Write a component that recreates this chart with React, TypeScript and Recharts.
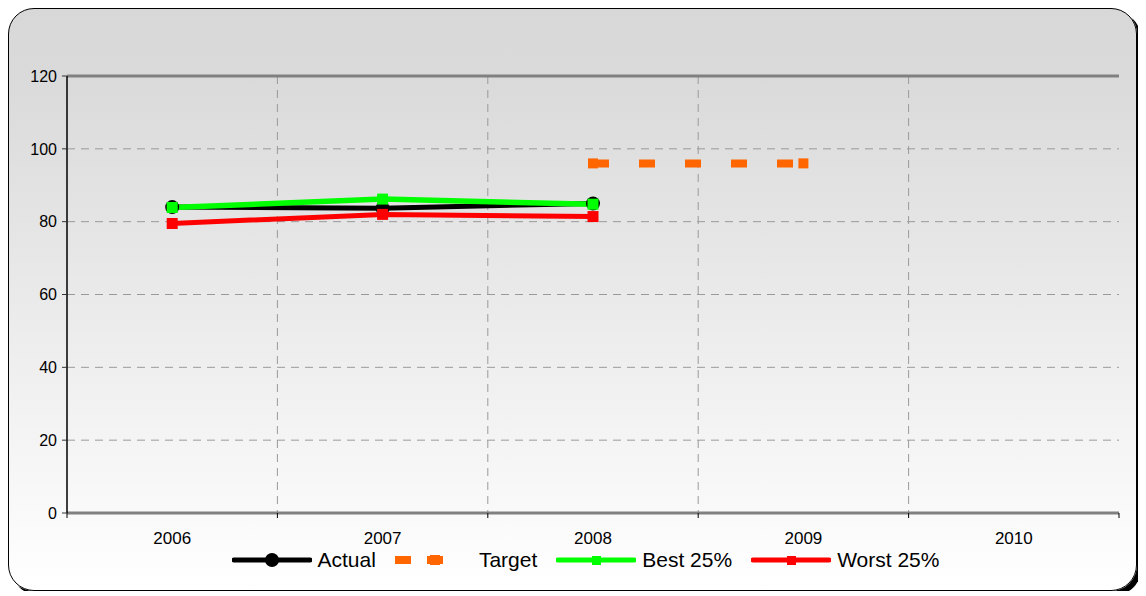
import React from "react";
import {
  LineChart,
  Line,
  XAxis,
  YAxis,
  CartesianGrid,
  Legend,
  ReferenceLine,
} from "recharts";

const years = ["2006", "2007", "2008", "2009", "2010"];
const actual = [84, 83.7, 85, null, null];
const target = [null, null, 96, 96, null];
const best25 = [83.9, 86.2, 84.8, null, null];
const worst25 = [79.5, 82, 81.4, null, null];
const yTicks = [0, 20, 40, 60, 80, 100, 120];

const data = years.map((year, i) => ({
  year,
  actual: actual[i],
  target: target[i],
  best: best25[i],
  worst: worst25[i],
}));

const FONT = "'Liberation Sans', Arial, sans-serif";
const W = 1127;
const H = 581;
const MARGIN = { top: 67, right: 17, left: 18, bottom: 17 };
const Y_AXIS_W = 40;
const PLOT_W = W - MARGIN.left - MARGIN.right - Y_AXIS_W;
const BAND = PLOT_W / years.length;

const squareDot = (fill: string, size: number) => (props: any) => {
  const { cx, cy, index, value } = props;
  if (cx == null || cy == null || value == null) return <g key={index} />;
  return (
    <rect key={index} x={cx - size / 2} y={cy - size / 2} width={size} height={size} fill={fill} />
  );
};

const circleDot = (props: any) => {
  const { cx, cy, index, value } = props;
  if (cx == null || cy == null || value == null) return <g key={index} />;
  return <circle key={index} cx={cx} cy={cy} r={7} fill="#000" />;
};

// year label plus tick marks on the category boundaries (Excel style)
const YearTick = (props: any) => {
  const { x, y, payload, index } = props;
  const last = index === years.length - 1;
  return (
    <g>
      <line x1={x - BAND / 2} y1={y} x2={x - BAND / 2} y2={y + 5} stroke="#000" />
      {last && <line x1={x + BAND / 2} y1={y} x2={x + BAND / 2} y2={y + 5} stroke="#000" />}
      <text x={x} y={y + 31} textAnchor="middle" fill="#000" fontSize={17} fontFamily={FONT}>
        {payload.value}
      </text>
    </g>
  );
};

const legendItems = [
  { name: "Actual", color: "#000000", kind: "circle" },
  { name: "Target", color: "#ff6600", kind: "dash" },
  { name: "Best 25%", color: "#00ff00", kind: "square" },
  { name: "Worst 25%", color: "#ff0000", kind: "square" },
];

function LegendIcon({ kind, color }: { kind: string; color: string }) {
  if (kind === "dash") {
    return (
      <svg width={62} height={20} style={{ marginRight: 22 }}>
        <line x1={0} y1={10} x2={62} y2={10} stroke={color} strokeWidth={8} strokeDasharray="16 16" />
        <rect x={35} y={5} width={10} height={10} fill={color} />
      </svg>
    );
  }
  return (
    <svg width={80} height={20} style={{ marginRight: 6 }}>
      <line x1={2} y1={10} x2={78} y2={10} stroke={color} strokeWidth={5} strokeLinecap="round" />
      {kind === "circle" ? (
        <circle cx={40} cy={10} r={7} fill={color} />
      ) : (
        <rect x={36} y={6} width={9} height={9} fill={color} />
      )}
    </svg>
  );
}

function renderLegend() {
  return (
    <div
      style={{
        display: "flex",
        justifyContent: "center",
        alignItems: "center",
        height: 30,
        paddingTop: 2,
        paddingLeft: 44,
        fontFamily: FONT,
        fontSize: 21,
        color: "#000",
      }}
    >
      {legendItems.map((item) => (
        <div key={item.name} style={{ display: "flex", alignItems: "center", marginRight: 19 }}>
          <LegendIcon kind={item.kind} color={item.color} />
          <span>{item.name}</span>
        </div>
      ))}
    </div>
  );
}

export default function App() {
  return (
    <div
      style={{
        position: "relative",
        width: 1129,
        height: 583,
        boxSizing: "border-box",
        border: "1.5px solid #000",
        borderRadius: 26,
        boxShadow: "4px 4px 0 #000",
        background: "linear-gradient(to bottom, #d8d8d8 0%, #dadada 12%, #ffffff 100%)",
        overflow: "hidden",
      }}
    >
      <LineChart width={W} height={H} data={data} margin={MARGIN} style={{ fontFamily: FONT }}>
        <CartesianGrid
          yAxisId="left"
          stroke="#9a9a9a"
          strokeDasharray="8 6"
          verticalCoordinatesGenerator={({ offset }: any) =>
            years.slice(1).map((_, i) => offset.left + (offset.width * (i + 1)) / years.length)
          }
        />
        <XAxis
          dataKey="year"
          scale="band"
          axisLine={{ stroke: "#808080", strokeWidth: 3 }}
          tickLine={false}
          tickSize={0}
          tickMargin={0}
          height={30}
          interval={0}
          tick={<YearTick />}
        />
        <YAxis
          yAxisId="left"
          domain={[0, 120]}
          ticks={yTicks}
          width={Y_AXIS_W}
          tickSize={5}
          tickMargin={5}
          axisLine={{ stroke: "#000", strokeWidth: 1.5 }}
          tickLine={{ stroke: "#333" }}
          tick={{ fill: "#000", fontSize: 16 }}
        />
        <YAxis
          yAxisId="frame"
          orientation="right"
          domain={[0, 120]}
          width={0}
          tick={false}
          tickLine={false}
          axisLine={{ stroke: "#808080", strokeWidth: 2 }}
        />
        <ReferenceLine yAxisId="left" y={120} stroke="#808080" strokeWidth={3} />
        <Legend verticalAlign="bottom" align="center" height={30} content={renderLegend} />
        <Line
          yAxisId="left"
          dataKey="actual"
          name="Actual"
          stroke="#000"
          strokeWidth={5}
          dot={circleDot}
          activeDot={false}
          isAnimationActive={false}
        />
        <Line
          yAxisId="left"
          dataKey="target"
          name="Target"
          stroke="#ff6600"
          strokeWidth={8}
          strokeDasharray="16 30"
          dot={squareDot("#ff6600", 10)}
          activeDot={false}
          isAnimationActive={false}
        />
        <Line
          yAxisId="left"
          dataKey="best"
          name="Best 25%"
          stroke="#00ff00"
          strokeWidth={5.5}
          dot={squareDot("#00ff00", 11)}
          activeDot={false}
          isAnimationActive={false}
        />
        <Line
          yAxisId="left"
          dataKey="worst"
          name="Worst 25%"
          stroke="#ff0000"
          strokeWidth={5}
          dot={squareDot("#ff0000", 11)}
          activeDot={false}
          isAnimationActive={false}
        />
      </LineChart>
    </div>
  );
}
